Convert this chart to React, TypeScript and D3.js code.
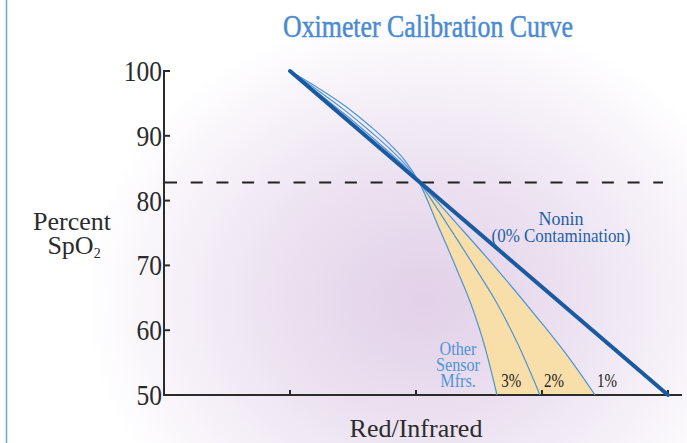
import * as d3 from 'd3';
import { type FC } from 'react';

// axis ticks
const yTicks = [50, 60, 70, 80, 90, 100];
const xTicks = [1, 2, 3, 4];

// Nonin straight line (ratio, SpO2)
const nonin: [number, number][] = [
  [1, 100],
  [4, 50],
];

// other sensor manufacturers, by contamination level (ratio, SpO2)
const curve3: [number, number][] = [
  [1, 100], [1.2, 97.67], [1.44, 94.57], [1.64, 91.43], [1.8, 88.57], [1.92, 85.97], [2.02, 83.0],
  [2.18, 75.9], [2.33, 69.1], [2.45, 63.3], [2.55, 57.2], [2.643, 50],
];
const curve2: [number, number][] = [
  [1, 100], [1.2, 97.29], [1.44, 93.85], [1.64, 90.63], [1.8, 87.85], [1.92, 85.47], [2.02, 83.0],
  [2.25, 76.3], [2.48, 69.3], [2.65, 63.9], [2.8, 58.2], [2.984, 50],
];
const curve1: [number, number][] = [
  [1, 100], [1.2, 96.97], [1.44, 93.24], [1.64, 89.96], [1.8, 87.24], [1.92, 85.06], [2.02, 83.0],
  [2.33, 76.3], [2.643, 69.4], [2.968, 61.8], [3.2, 56.1], [3.421, 50],
];
const crossSpo2 = 83.0;
const dashedSpo2 = 82.8;

const curveLabels = [
  { ratio: 2.66, text: '3%' },
  { ratio: 3.0, text: '2%' },
  { ratio: 3.42, text: '1%' },
];
const otherLabel = ['Other', 'Sensor', 'Mfrs.'];

const serif = "'Liberation Serif', 'Times New Roman', serif";

const App: FC = () => {
  const width = 687;
  const height = 443;
  const x = d3.scaleLinear([0, 4], [164, 668]);
  const y = d3.scaleLinear([50, 100], [395, 71]);

  const line = d3
    .line<[number, number]>()
    .x((d) => x(d[0]))
    .y((d) => y(d[1]))
    .curve(d3.curveMonotoneX);

  const fillPath =
    (line(curve3) ?? '') +
    'L' + x(curve1[curve1.length - 1][0]) + ',' + y(50) +
    (line(curve1.slice().reverse()) ?? '').replace(/^M/, 'L') + 'Z';

  return (
    <svg
      width={width}
      height={height}
      viewBox={`0, 0, ${width}, ${height}`}
      style={{ position: 'absolute', left: 0, top: 0 }}
    >
      <defs>
        <radialGradient
          id='glow'
          gradientUnits='userSpaceOnUse'
          cx={425}
          cy={300}
          r={340}
          gradientTransform='translate(425,300) scale(1,0.85) translate(-425,-300)'
        >
          <stop offset='0' stopColor='#e2d0e8' />
          <stop offset='0.45' stopColor='#ece2f1' />
          <stop offset='0.8' stopColor='#f8f4fa' />
          <stop offset='1' stopColor='#ffffff' />
        </radialGradient>
        <clipPath id='below'>
          <rect x={0} y={y(crossSpo2)} width={width} height={y(50) - y(crossSpo2)} />
        </clipPath>
      </defs>
      <rect width={width} height={height} fill='#ffffff' />
      <rect width={width} height={height} fill='url(#glow)' />
      <line x1={6.5} x2={6.5} y1={0} y2={height} stroke='#6aa5dc' strokeWidth={1.5} />

      <text
        x={428}
        y={37}
        textAnchor='middle'
        fontFamily={serif}
        fontSize={31}
        fill='#4a8bd0'
        stroke='#4a8bd0'
        strokeWidth={0.5}
        textLength={290}
        lengthAdjust='spacingAndGlyphs'
      >
        Oximeter Calibration Curve
      </text>

      {/* yellow band between 3% and 1% */}
      <path d={fillPath} fill='#f8dea8' clipPath='url(#below)' />

      {/* axes */}
      <g stroke='#2b2b2b' strokeWidth={2} fill='none'>
        <path d={`M${x(0) + 6},${y(100)}H${x(0)}V${y(50)}H682`} />
        {yTicks.slice(1, -1).map((t) => (
          <line key={t} x1={x(0)} x2={x(0) + 6} y1={y(t)} y2={y(t)} />
        ))}
        {xTicks.map((t) => (
          <line key={t} x1={x(t)} x2={x(t)} y1={y(50)} y2={y(50) - 5} />
        ))}
      </g>
      <line
        x1={x(0) + 1}
        x2={663}
        y1={y(dashedSpo2)}
        y2={y(dashedSpo2)}
        stroke='#222'
        strokeWidth={2}
        strokeDasharray='12 13.7'
      />

      {yTicks.map((t) => (
        <g key={t} transform={`translate(${x(0) - 2},${y(t) + 10}) scale(0.85,1)`}>
          <text textAnchor='end' fontFamily={serif} fontSize={30} fill='#2b2b2b'>
            {t}
          </text>
        </g>
      ))}

      {/* curves */}
      <g fill='none' stroke='#4d95d8' strokeWidth={1.2}>
        <path d={line(curve3) ?? undefined} />
        <path d={line(curve2) ?? undefined} />
        <path d={line(curve1) ?? undefined} />
      </g>
      <path
        d={line(nonin) ?? undefined}
        fill='none'
        stroke='#1b5aa0'
        strokeWidth={4}
        strokeLinecap='round'
      />

      {curveLabels.map((l) => (
        <text
          key={l.text}
          x={x(l.ratio) + 2}
          y={387}
          fontFamily={serif}
          fontSize={19}
          fill='#222'
          textLength={20}
          lengthAdjust='spacingAndGlyphs'
        >
          {l.text}
        </text>
      ))}

      <g fontFamily={serif} fontSize={17} fill='#4d95d8' textAnchor='middle'>
        {otherLabel.map((s, i) => (
          <g key={s} transform={`translate(458,${355 + i * 16}) scale(0.95,1.1)`}>
            <text>{s}</text>
          </g>
        ))}
      </g>

      <g fontFamily={serif} fontSize={18} fill='#1f5fa6' textAnchor='middle'>
        <g transform='translate(561,225) scale(1,1.1)'>
          <text>Nonin</text>
        </g>
        <g transform='translate(561,242) scale(1,1.1)'>
          <text textLength={139} lengthAdjust='spacingAndGlyphs'>
            (0% Contamination)
          </text>
        </g>
      </g>

      <g fontFamily={serif} fontSize={26} fill='#2b2b2b' textAnchor='middle'>
        <text x={72} y={230}>Percent</text>
        <text x={74} y={254}>
          SpO<tspan fontSize={14} dy={4}>2</tspan>
        </text>
        <text x={416} y={437}>Red/Infrared</text>
      </g>
    </svg>
  );
};

export default App;
